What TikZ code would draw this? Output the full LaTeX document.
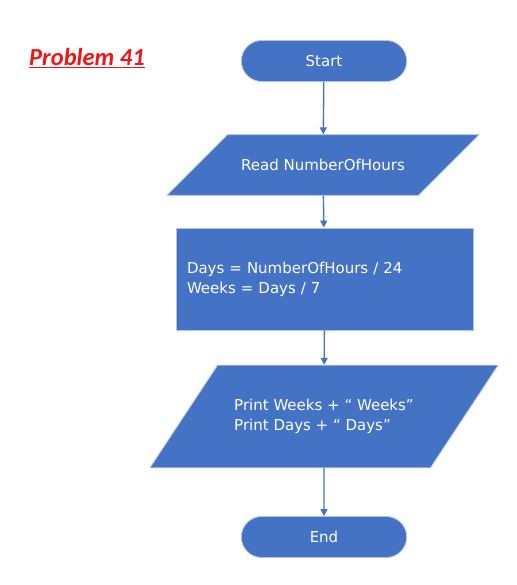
\documentclass[tikz,border=0pt]{standalone}
\usepackage{fontspec}
\setmainfont{DejaVu Sans}
\newfontfamily\titlefont{Carlito}
\usepackage{xcolor}
\usetikzlibrary{shapes.geometric}
\usetikzlibrary{shapes.misc}
\usetikzlibrary{arrows.meta}
\definecolor{boxblue}{HTML}{4472C4}
\definecolor{edgeblue}{HTML}{AFC4EA}
\definecolor{titlered}{HTML}{F01414}
\tikzset{
    chartfont/.style={text=white,font=\fontsize{15}{20}\selectfont},
    terminal/.style={rounded rectangle,fill=boxblue,draw=edgeblue,line width=0.8pt,
        minimum width=172pt,minimum height=41pt,chartfont},
    iobox/.style={trapezium,trapezium stretches body,fill=boxblue,draw=edgeblue,
        line width=0.8pt,align=left,chartfont},
    procbox/.style={rectangle,fill=boxblue,draw=edgeblue,line width=0.8pt,
        minimum width=297pt,minimum height=102pt,text width=275pt,align=left,chartfont},
    flow/.style={boxblue,line width=1.4pt,-{Triangle[length=7pt,width=7pt]}}
}
\begin{document}
\begin{tikzpicture}[x=1pt,y=-1pt]
                    \useasboundingbox (0,0) rectangle (516,585);
                    \node[text=titlered,font=\titlefont\bfseries\itshape\fontsize{24.5}{28}\selectfont] (title) at (87,58){\underline{Problem 41}};

                    \node[terminal] (start) at (324,61){Start};
                    \node[iobox,trapezium left angle=45,trapezium right angle=135,
                        minimum width=312pt,inner ysep=24.5pt] (read) at (323,165){Read NumberOfHours};
                    \node[procbox] (calc) at (324.5,279){Days = NumberOfHours / 24\\Weeks = Days / 7};
                    \node[iobox,trapezium left angle=56.6,trapezium right angle=123.4,
                        minimum width=348pt,inner ysep=34pt] (print) at (324,416.5){Print Weeks + “ Weeks”\\Print Days + “ Days”};
                    \node[terminal] (end) at (324,537){End};

                    \draw[flow] (start) -- (read);
                    \draw[flow] (read) -- (calc);
                    \draw[flow] (calc) -- (print);
                    \draw[flow] (print) -- (end);
                \end{tikzpicture}
\end{document}
